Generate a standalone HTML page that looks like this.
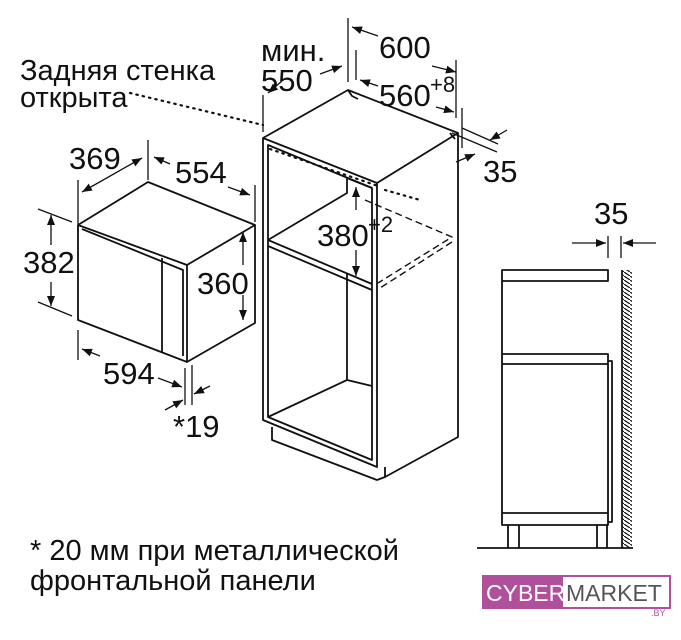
<!DOCTYPE html>
<html><head><meta charset="utf-8"><style>
html,body{margin:0;padding:0;background:#fff;width:681px;height:640px;overflow:hidden}
svg{display:block}
text{font-family:"Liberation Sans",sans-serif;fill:#111}
</style></head><body>
<svg width="681" height="640" viewBox="0 0 681 640" xmlns="http://www.w3.org/2000/svg">
<defs>
<marker id="a" viewBox="0 0 10 10" refX="10" refY="5" markerWidth="10" markerHeight="10" orient="auto-start-reverse" markerUnits="userSpaceOnUse"><path d="M0,1 L10,5 L0,9 z" fill="#111"/></marker>
<pattern id="h" width="6" height="4" patternUnits="userSpaceOnUse"><path d="M0,0 L6,4" stroke="#111" stroke-width="1.2"/></pattern>
</defs>
<g stroke="#111" stroke-width="1.8" fill="none" stroke-linejoin="round">
<path d="M78,225 L148,182 L255,225 L187,265 Z"/>
<path d="M78,225 L78,320 L187,362 L255,323 L255,225"/>
<path d="M187,265 L187,362"/>
<path d="M82,229 L183,270 L183,356"/>
<path d="M162,258 L162,352"/>
<g stroke-width="1.3">
<path d="M78,180 V232 M148,140 V180 M255,185 V222"/>
<path d="M82,192 L142,158" marker-start="url(#a)" marker-end="url(#a)"/>
<path d="M170,164 L154,157" marker-end="url(#a)"/>
<path d="M228,187 L250,195" marker-end="url(#a)"/>
<path d="M38,209 L72,222 M38,302 L72,316"/>
<path d="M51,245 V215" marker-end="url(#a)"/>
<path d="M51,282 V306" marker-end="url(#a)"/>
<path d="M243,265 V232" marker-end="url(#a)"/>
<path d="M243,295 V320" marker-end="url(#a)"/>
<path d="M78,330 V360 M185,368 V405 M192,365 V405"/>
<path d="M100,356 L82,349" marker-end="url(#a)"/>
<path d="M158,378 L182,387" marker-end="url(#a)"/>
<path d="M165,410 L183,400" marker-end="url(#a)"/>
<path d="M210,386 L194,394" marker-end="url(#a)"/>
</g>
<path d="M263,138 L348,90 L458,133 L377,183 Z"/>
<path d="M348,90 L352,96 L358,99"/>
<path d="M450,133 L455,139"/>
<path d="M263,138 V420 L377,467 V183"/>
<path d="M458,133 V437 L385,477 V467"/>
<path d="M268,145 L372,188 L372,460 L268,417 Z"/>
<path d="M268,240 L372,284 M268,246 L372,290"/>
<path d="M268,240 L347,193 L347,178"/>
<path d="M347,273 V380 L372,386 M268,417 L347,380"/>
<path d="M272,427 V440 L377,480 L385,477"/>
<path d="M347,178 L372,188"/>
<g stroke-width="1.4" stroke-dasharray="7,4">
<path d="M365,200 L452,237 L378,283 M452,242 L380,288"/>
</g>
<g stroke-width="2.2" stroke-dasharray="1.5,5" stroke-linecap="round">
<path d="M130,93 L263,125 M270,149 L378,186 M385,190 L420,200"/>
</g>
<g stroke-width="1.3">
<path d="M263,95 V132 M348,18 V82 M356,50 V80 M456,60 V118 M462,108 V148"/>
<path d="M282,81 L268,93" marker-end="url(#a)"/>
<path d="M320,74 L342,66" marker-end="url(#a)"/>
<path d="M378,36 L352,27" marker-end="url(#a)"/>
<path d="M432,66 L456,72" marker-end="url(#a)"/>
<path d="M378,86 L360,80" marker-end="url(#a)"/>
<path d="M436,107 L454,112" marker-end="url(#a)"/>
<path d="M452,133 L497,152 M462,128 L498,144"/>
<path d="M507,130 L490,140" marker-end="url(#a)"/>
<path d="M456,162 L475,154" marker-end="url(#a)"/>
<path d="M356,210 V187" marker-end="url(#a)"/>
<path d="M356,250 V276" marker-end="url(#a)"/>
</g>
<rect x="502" y="270" width="106" height="11"/>
<path d="M502,281 V525 H608 V354 H502 M502,364 H608 M502,513 H608"/>
<path d="M608,361 H612 V522 H608"/>
<path d="M508,525 V548 M519,525 V548 M597,525 V548 M607,525 V548"/>
<path d="M477,548 H633"/>
<path d="M622,270 V548"/>
<g stroke-width="1.3">
<path d="M608,236 V258 M621,236 V258"/>
<path d="M572,243 H606" marker-end="url(#a)"/>
<path d="M656,243 H623" marker-end="url(#a)"/>
</g>
</g>
<rect x="623" y="270" width="9" height="278" fill="url(#h)"/>
<g font-size="31">
<text x="69" y="169">369</text>
<text x="175" y="183">554</text>
<text x="23" y="273">382</text>
<text x="197" y="294">360</text>
<text x="103" y="384">594</text>
<text x="173" y="437">*19</text>
<text x="261" y="61">мин.</text>
<text x="261" y="91">550</text>
<text x="379" y="58">600</text>
<text x="379" y="106">560</text>
<text x="483" y="182">35</text>
<text x="317" y="246">380</text>
<text x="594" y="224">35</text>
</g>
<text x="430" y="92" font-size="22">+8</text>
<text x="368" y="232" font-size="22">+2</text>
<g font-size="29">
<text x="20" y="80">Задняя стенка</text>
<text x="20" y="107">открыта</text>
<text x="30" y="560">* 20 мм при металлической</text>
<text x="30" y="590">фронтальной панели</text>
</g>
<rect x="483" y="576" width="187" height="32" fill="#fff" stroke="#b0509c" stroke-width="2"/>
<rect x="483" y="576" width="80" height="32" fill="#b0509c"/>
<text x="486" y="601" font-size="23" style="fill:#fff">CYBER</text>
<text x="566" y="601" font-size="23" style="fill:#555">MARKET</text>
<text x="651" y="616" font-size="9" style="fill:#b0509c">.BY</text>
</svg>
</body></html>
